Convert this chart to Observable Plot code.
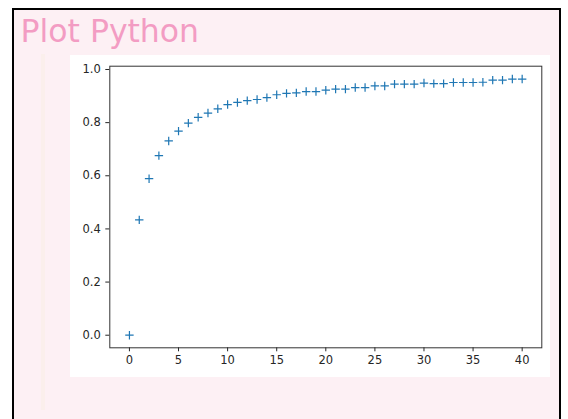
<!DOCTYPE html>
<html>
<head>
<meta charset="utf-8">
<script src="https://cdn.jsdelivr.net/npm/d3@7"></script>
<script src="https://cdn.jsdelivr.net/npm/@observablehq/plot@0.6"></script>
<style>
  html, body { margin: 0; padding: 0; background: #ffffff; width: 568px; height: 419px; overflow: hidden; }
  #frame { position: absolute; left: 12px; top: 7.5px; width: 545px; height: 430px; border: 2px solid #000; background: #fdf0f4; box-sizing: content-box; }
  #band { position: absolute; left: 41px; top: 54px; width: 4px; height: 356px; background: #fbefec; }
  #title { position: absolute; left: 20.5px; top: 15.5px; font-family: "DejaVu Sans", sans-serif; font-size: 31.5px; line-height: 31.5px; color: #f39cc3; white-space: nowrap; }
  #chart { position: absolute; left: 70px; top: 55px; width: 480px; height: 322px; background: #fff; }
</style>
</head>
<body>
<div id="frame"></div>
<div id="band"></div>
<div id="title">Plot Python</div>
<div id="chart"></div>
<script>
const steps = [0, 1, 2, 3, 4, 5, 6, 7, 8, 9, 10, 11, 12, 13, 14, 15, 16, 17, 18, 19, 20,
               21, 22, 23, 24, 25, 26, 27, 28, 29, 30, 31, 32, 33, 34, 35, 36, 37, 38, 39, 40];
const values = [0, 0.434, 0.589, 0.676, 0.731, 0.768, 0.798, 0.820, 0.836, 0.852, 0.868,
                0.876, 0.883, 0.887, 0.894, 0.905, 0.910, 0.912, 0.917, 0.917, 0.922,
                0.926, 0.926, 0.932, 0.932, 0.938, 0.938, 0.945, 0.945, 0.945, 0.949,
                0.947, 0.947, 0.951, 0.951, 0.951, 0.952, 0.960, 0.960, 0.964, 0.964];
const xTicks = [0, 5, 10, 15, 20, 25, 30, 35, 40];
const yTicks = [0.0, 0.2, 0.4, 0.6, 0.8, 1.0];

const data = steps.map((s, i) => ({step: s, value: values[i]}));

// matplotlib-style "+" marker with fixed arm length
const plusMarker = {
  draw(context) {
    const r = 4.2;
    context.moveTo(-r, 0);
    context.lineTo(r, 0);
    context.moveTo(0, -r);
    context.lineTo(0, r);
  }
};

const chart = Plot.plot({
  width: 480,
  height: 322,
  marginLeft: 39.3,
  marginTop: 10.7,
  marginRight: 8.7,
  marginBottom: 29.7,
  style: {background: "white", fontFamily: "DejaVu Sans, sans-serif", fontSize: "11.5px", color: "#262626", overflow: "visible"},
  x: {domain: [-2, 42], ticks: xTicks, tickSize: 4, tickPadding: 4, label: null},
  y: {domain: [-0.0474, 1.0124], ticks: yTicks, tickFormat: d3.format(".1f"), tickSize: 4, tickPadding: 5, label: null},
  marks: [
    Plot.frame({stroke: "#333", strokeWidth: 1}),
    Plot.dot(data, {x: "step", y: "value", symbol: plusMarker, r: 4, fill: "none", stroke: "#1f77b4", strokeWidth: 1.2})
  ]
});
document.getElementById("chart").appendChild(chart);
</script>
</body>
</html>
